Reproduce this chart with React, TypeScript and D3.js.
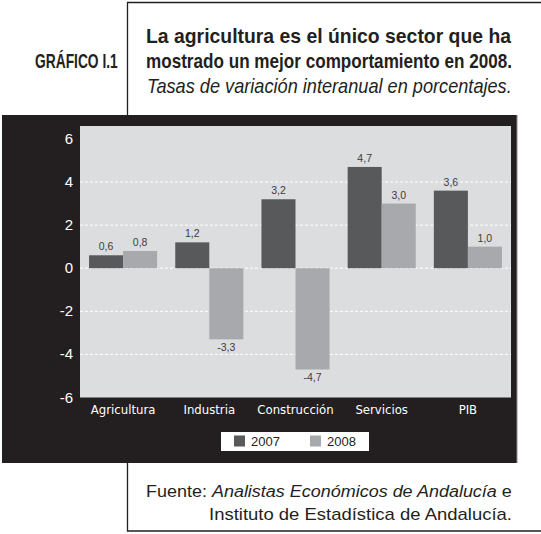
import React, { useLayoutEffect, useRef, useState } from 'react';
import * as d3 from 'd3';

const categories = ['Agricultura', 'Industria', 'Construcción', 'Servicios', 'PIB'];
const series = ['2007', '2008'];
const values2007 = [0.6, 1.2, 3.2, 4.7, 3.6];
const values2008 = [0.8, -3.3, -4.7, 3.0, 1.0];
const yTicks = [-6, -4, -2, 0, 2, 4, 6];
const gridTicks = [-4, -2, 0, 2, 4];

const colors = { '2007': '#58595b', '2008': '#a7a9ac' };
const narrow = "'DejaVu Sans Condensed', 'Liberation Sans', sans-serif";
const plain = "'Liberation Sans', Arial, sans-serif";

const W = 541;
const H = 534;
const plot = { left: 80, right: 511, top: 126, bottom: 397.5 };

const fmt = (v: number) => v.toFixed(1).replace('.', ',');

// squeezes a line horizontally to the given width (condensed look of the original)
function FitText({ x, y, width, children, ...rest }: any) {
  const ref = useRef<SVGTextElement>(null);
  const [k, setK] = useState(1);
  useLayoutEffect(() => {
    if (!ref.current) return;
    const w = ref.current.getBBox().width;
    if (w > 0) setK(width / w);
  }, [width]);
  return (
    <text ref={ref} transform={`translate(${x},${y}) scale(${k},1)`} {...rest}>
      {children}
    </text>
  );
}

export default function App() {
  const x0 = d3
    .scaleBand<string>()
    .domain(categories)
    .range([plot.left, plot.right])
    .paddingInner(0.21)
    .paddingOuter(0.105);
  const x1 = d3.scaleBand<string>().domain(series).range([0, x0.bandwidth()]);
  const y = d3.scaleLinear().domain([-6, 6.6]).range([plot.bottom, plot.top]);

  const rows = categories.map((c, i) => ({
    cat: c,
    vals: [
      { s: '2007', v: values2007[i] },
      { s: '2008', v: values2008[i] },
    ],
  }));

  return (
    <div style={{ position: 'absolute', left: 0, top: 0 }}>
      <svg width={W} height={H} style={{ display: 'block', background: '#fff' }}>
        {/* top frame */}
        <path d="M127.5,115 V2.5 H541" fill="none" stroke="#231f20" strokeWidth={1.3} />
        <FitText x={35} y={68} width={83} fontFamily={plain} fontWeight="bold" fontSize={21} fill="#231f20">
          GRÁFICO I.1
        </FitText>
        <FitText x={146} y={43} width={366} fontFamily={plain} fontWeight="bold" fontSize={20} fill="#231f20">
          La agricultura es el único sector que ha
        </FitText>
        <FitText x={146} y={68} width={366} fontFamily={plain} fontWeight="bold" fontSize={20} fill="#231f20">
          mostrado un mejor comportamiento en 2008.
        </FitText>
        <FitText x={147} y={93} width={365} fontFamily={plain} fontStyle="italic" fontSize={20} fill="#231f20">
          Tasas de variación interanual en porcentajes.
        </FitText>

        {/* chart panel */}
        <rect x={2} y={115} width={515} height={348} fill="#231f20" />
        <line x1={517} x2={517} y1={115} y2={463} stroke="#8a8a8a" strokeWidth={1} />
        <rect x={plot.left} y={plot.top} width={plot.right - plot.left} height={plot.bottom - plot.top} fill="#dcdddf" />

        {gridTicks.map((t) => (
          <line key={t} x1={plot.left} x2={plot.right} y1={y(t)} y2={y(t)}
            stroke="#fff" strokeWidth={1} strokeDasharray="3,2" />
        ))}

        {rows.map((r) => (
          <g key={r.cat} transform={`translate(${x0(r.cat)},0)`}>
            {r.vals.map((d) => (
              <rect key={d.s} x={x1(d.s)} width={x1.bandwidth()}
                y={y(Math.max(0, d.v))} height={Math.abs(y(d.v) - y(0))}
                fill={colors[d.s as '2007' | '2008']} />
            ))}
            {r.vals.map((d) => (
              <text key={'l' + d.s} x={(x1(d.s) as number) + x1.bandwidth() / 2}
                y={d.v >= 0 ? y(d.v) - 5 : y(d.v) + 12}
                textAnchor="middle" fontFamily={plain} fontSize={10.5} fill="#3c3c3c">{fmt(d.v)}</text>
            ))}
          </g>
        ))}

        {yTicks.map((t) => (
          <text key={t} x={73} y={y(t) + 5} textAnchor="end" fontFamily={plain} fontSize={15} fill="#fff">{t}</text>
        ))}

        {categories.map((c) => (
          <text key={c} x={(x0(c) as number) + x0.bandwidth() / 2} y={414} textAnchor="middle"
            fontFamily={narrow} fontSize={13} fill="#fff">{c}</text>
        ))}

        {/* legend */}
        <rect x={221} y={432} width={148} height={19} fill="#fff" />
        {series.map((s, i) => (
          <g key={s} transform={`translate(${234 + i * 76},0)`}>
            <rect x={0} y={435.5} width={11} height={11} fill={colors[s as '2007' | '2008']} />
            <text x={17} y={446} fontFamily={plain} fontSize={13} fill="#231f20">{s}</text>
          </g>
        ))}

        {/* bottom frame */}
        <path d="M127.5,463 V531 H541" fill="none" stroke="#231f20" strokeWidth={1.3} />
        <FitText x={146} y={497} width={366} fontFamily={plain} fontSize={17} fill="#231f20">
          Fuente: <tspan fontStyle="italic">Analistas Económicos de Andalucía</tspan> e
        </FitText>
        <FitText x={209} y={520} width={303} fontFamily={plain} fontSize={17} fill="#231f20">
          Instituto de Estadística de Andalucía.
        </FitText>
      </svg>
    </div>
  );
}
